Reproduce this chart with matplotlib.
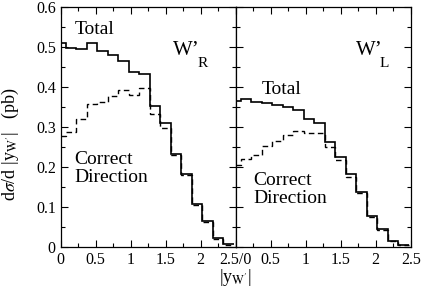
"""
Rapidity distribution of the W' boson, total vs. correct direction,
for right-handed (left panel) and left-handed (right panel) couplings.
"""

import matplotlib
matplotlib.use("Agg")
import matplotlib.pyplot as plt
import numpy as np
from matplotlib.ticker import MultipleLocator, FixedLocator, FixedFormatter, FuncFormatter

# bin centres in |y_W'|
bin_centers = [0.0, 0.15, 0.3, 0.45, 0.6, 0.75, 0.9, 1.05, 1.2,
               1.35, 1.5, 1.65, 1.8, 1.95, 2.1, 2.25, 2.4]

# W'_R (left panel), pb
total_R = [0.511, 0.498, 0.495, 0.509, 0.490, 0.480, 0.466, 0.4375, 0.433,
           0.3525, 0.309, 0.232, 0.183, 0.1075, 0.065, 0.022, 0.007]
correct_R = [0.278, 0.287, 0.320, 0.3575, 0.363, 0.378, 0.3925, 0.380, 0.3975,
             0.332, 0.297, 0.229, 0.180, 0.105, 0.063, 0.020, 0.006]

# W'_L (right panel), pb
total_L = [0.366, 0.369, 0.362, 0.360, 0.356, 0.349, 0.3425, 0.321, 0.309,
           0.263, 0.226, 0.1825, 0.138, 0.0775, 0.044, 0.015, 0.005]
correct_L = [0.205, 0.219, 0.230, 0.2525, 0.266, 0.281, 0.289, 0.285, 0.285,
             0.250, 0.2175, 0.176, 0.134, 0.076, 0.043, 0.014, 0.004]

x_ticks = [0, 0.5, 1, 1.5, 2, 2.5]
x_labels_left = ["0", "0.5", "1", "1.5", "2", "2.5/0"]
x_labels_right = ["", "0.5", "1", "1.5", "2", "2.5"]

plt.rcParams['font.family'] = ['Liberation Serif', 'DejaVu Serif']
plt.rcParams['mathtext.fontset'] = 'stix'


def bin_edges(centers):
    c = np.asarray(centers)
    mids = (c[:-1] + c[1:]) / 2
    half = (c[1] - c[0]) / 2
    return np.concatenate([[c[0]], mids, [c[-1] + half]])


def y_fmt(v, pos):
    return "0" if abs(v) < 1e-9 else f"{v:.1f}"


def style_axis(ax, labels):
    ax.set_xlim(0, 2.5)
    ax.set_ylim(0, 0.6)
    ax.xaxis.set_major_locator(FixedLocator(x_ticks))
    ax.xaxis.set_major_formatter(FixedFormatter(labels))
    ax.xaxis.set_minor_locator(MultipleLocator(0.25))
    ax.yaxis.set_major_locator(MultipleLocator(0.1))
    ax.yaxis.set_minor_locator(MultipleLocator(0.05))
    ax.yaxis.set_major_formatter(FuncFormatter(y_fmt))
    ax.tick_params(which='both', direction='in', top=True, right=True,
                   labelsize=11.5, width=0.8)
    ax.tick_params(which='major', length=5)
    ax.tick_params(which='minor', length=3)
    for s in ax.spines.values():
        s.set_linewidth(0.9)


fig = plt.figure(figsize=(4.23, 2.88), dpi=100)
ax_r = fig.add_axes([0.1435, 0.1424, 0.4137, 0.8333])
ax_l = fig.add_axes([0.5572, 0.1424, 0.4137, 0.8333])

edges = bin_edges(bin_centers)

for ax, tot, cor in [(ax_r, total_R, correct_R), (ax_l, total_L, correct_L)]:
    ax.stairs(tot, edges, baseline=None, color='black', linewidth=1.2)
    ax.stairs(cor, edges, baseline=None, color='black', linewidth=1.0,
              linestyle=(0, (4, 2.5)))

style_axis(ax_r, x_labels_left)
style_axis(ax_l, x_labels_right)
ax_l.tick_params(labelleft=False)

# panel annotations
ax_r.text(0.2, 0.565, "Total", fontsize=14, va='top', ha='left')
ax_r.text(0.2, 0.24, "Correct\nDirection", fontsize=14, va='top', ha='left',
          linespacing=1.05)
ax_r.text(1.6, 0.515, "W\u2019", fontsize=15, va='top', ha='left')
ax_r.text(1.96, 0.475, "R", fontsize=11, va='top', ha='left')

ax_l.text(0.37, 0.415, "Total", fontsize=14, va='top', ha='left')
ax_l.text(0.25, 0.187, "Correct\nDirection", fontsize=14, va='top', ha='left',
          linespacing=1.05)
ax_l.text(1.72, 0.515, "W\u2019", fontsize=15, va='top', ha='left')
ax_l.text(2.06, 0.475, "L", fontsize=11, va='top', ha='left')

ax_r.set_ylabel(r"d$\sigma$/d |y$_{\mathrm{W'}}$|   (pb)", fontsize=13)
ax_r.yaxis.set_label_coords(-0.225, 0.43)
fig.text(235.7 / 423, 1 - 277 / 288, r"|y$_{\mathrm{W'}}$|", fontsize=13,
         ha='center', va='center')

fig.savefig("out.png", dpi=100)
